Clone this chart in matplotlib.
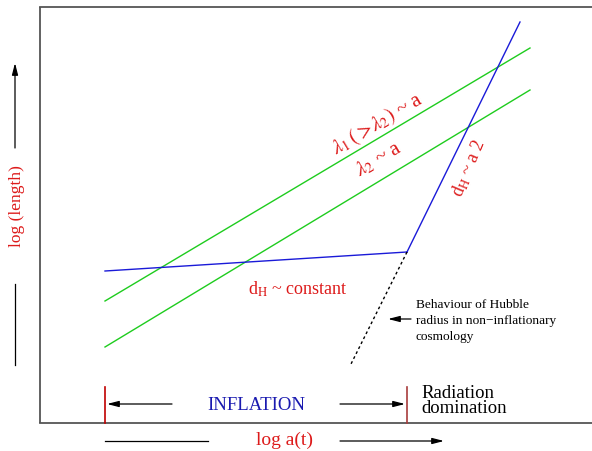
import matplotlib
matplotlib.use("Agg")
import matplotlib.pyplot as plt

plt.rcParams['font.family'] = ['Liberation Serif', 'DejaVu Serif']
plt.rcParams['mathtext.fontset'] = 'stix'

# Schematic coordinates (horizontal: log a, vertical: log length, drawn downward-increasing)
lambda1_x = [105, 530]
lambda1_y = [301, 48]
lambda2_x = [105, 530]
lambda2_y = [347, 90]
hubble_infl_x = [105, 407]
hubble_infl_y = [271, 252]
hubble_rad_x = [407, 520]
hubble_rad_y = [252, 22]
hubble_noninfl_x = [407, 350]
hubble_noninfl_y = [252, 366]
era_marks_x = [105, 407]

RED = '#dd1a1a'
GREEN = '#1ecc1e'
BLUE = '#1a1ad8'
FRAME = '#555555'

fig = plt.figure(figsize=(5.92, 4.51), dpi=100)
ax = fig.add_axes([0, 0, 1, 1])
ax.set_xlim(0, 592)
ax.set_ylim(451, 0)
ax.axis('off')

# frame (left, top, bottom)
ax.plot([40, 40], [7, 423], color=FRAME, lw=1.3, solid_capstyle='butt')
ax.plot([40, 592], [7, 7], color=FRAME, lw=1.3)
ax.plot([40, 592], [423, 423], color=FRAME, lw=1.3)

# curves
ax.plot(lambda1_x, lambda1_y, color=GREEN, lw=1.0)
ax.plot(lambda2_x, lambda2_y, color=GREEN, lw=1.0)
ax.plot(hubble_infl_x, hubble_infl_y, color=BLUE, lw=1.0)
ax.plot(hubble_rad_x, hubble_rad_y, color=BLUE, lw=1.0)
ax.plot(hubble_noninfl_x, hubble_noninfl_y, color='black', lw=1.0,
        linestyle=(0, (2, 2)))

# era markers
ax.plot([era_marks_x[0]] * 2, [387, 423], color='#c00000', lw=1.2)
ax.plot([era_marks_x[1]] * 2, [387, 423], color='#a83c3c', lw=1.2)

arrow = dict(arrowstyle='-|>,head_length=0.7,head_width=0.18', color='black',
             lw=0.9, shrinkA=0, shrinkB=0)
ax.annotate('', xy=(era_marks_x[0] + 2, 404), xytext=(172, 404), arrowprops=arrow)
ax.annotate('', xy=(era_marks_x[1] - 2, 404), xytext=(340, 404), arrowprops=arrow)
ax.text(256, 406, 'INFLATION', color='#1a1ab0', fontsize=13.5,
        ha='center', va='center')
ax.text(421, 401, 'Radiation\ndomination', color='black', fontsize=13.5,
        ha='left', va='center', linespacing=0.92)

# horizontal axis label
ax.plot([105, 208], [441, 441], color='black', lw=0.9)
ax.annotate('', xy=(444, 441), xytext=(340, 441), arrowprops=arrow)
ax.text(285, 440, 'log a(t)', color=RED, fontsize=14, ha='center', va='center')

# vertical axis label
ax.plot([15, 15], [365, 284], color='black', lw=0.9)
ax.annotate('', xy=(15, 63), xytext=(15, 148), arrowprops=arrow)
ax.text(17, 206, 'log (length)', color=RED, fontsize=12.5, rotation=90,
        ha='center', va='center')

# curve labels
ax.text(377, 124, r'$\lambda_1\,(>\!\lambda_2)$ ~ a', color=RED, fontsize=15,
        rotation=30.8, ha='center', va='center', rotation_mode='anchor')
ax.text(379, 159, r'$\lambda_2$ ~ a', color=RED, fontsize=15,
        rotation=30.8, ha='center', va='center', rotation_mode='anchor')
ax.text(298, 289, r'd$_{\rm H}$ ~ constant', color=RED, fontsize=13,
        ha='center', va='center')
ax.text(469, 168, r'd$_{\rm H}$ ~ a 2', color=RED, fontsize=13,
        rotation=67, ha='center', va='center', rotation_mode='anchor')

ax.annotate('', xy=(388, 319), xytext=(411, 319), arrowprops=arrow)
ax.text(416, 321, 'Behaviour of Hubble\nradius in non\u2212inflationary\ncosmology',
        color='black', fontsize=9.6, ha='left', va='center', linespacing=1.4)

fig.savefig('out.png', dpi=100)
